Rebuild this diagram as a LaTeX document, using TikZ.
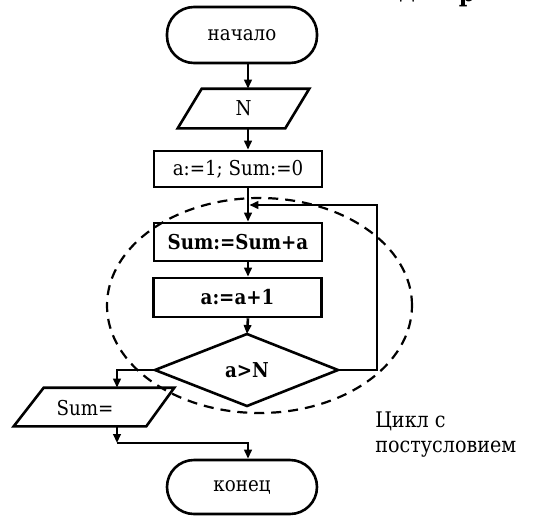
\documentclass[tikz,border=0pt]{standalone}
\usepackage{fontspec}
\setmainfont{DejaVu Serif}[FakeStretch=0.89]
\usetikzlibrary{arrows.meta,calc}
\begin{document}
\begin{tikzpicture}[x=1pt,y=-1pt,
  line width=2.6pt, line join=miter,
  arr/.style={-{Triangle[length=9pt,width=7.5pt]}},
  txt/.style={font=\fontsize{20.5}{24}\selectfont, inner sep=0pt},
  btxt/.style={font=\fontsize{20.5}{24}\selectfont\bfseries, inner sep=0pt},
  terminal/.style={draw, rounded corners=27pt, txt},
  procbox/.style={draw, txt},
  ghost/.style={inner sep=0pt},
  headfrag/.style={font=\fontsize{26}{30}\selectfont\bfseries, inner sep=0pt, anchor=south},
  looplabel/.style={font=\fontsize{21.5}{25}\selectfont, inner sep=0pt, anchor=base west},
  ]
\useasboundingbox (0,0) rectangle (541,515);

% heading fragments above the page edge
\node[headfrag] (hd) at (407,3.5) {д};
\node[headfrag] (hr) at (467,8) {р};

% main column of connectors
\coordinate (spine) at (248,0);

% blocks
\node[terminal, minimum width=150pt, minimum height=56pt] (start) at (242,35) {начало};
\node[ghost, minimum width=129pt, minimum height=37pt, txt] (inp) at (243.5,108.5) {N};
\draw ($(inp.north west)+(24,0)$) -- (inp.north east) -- ($(inp.south east)+(-24,0)$) -- (inp.south west) -- cycle;
\node[procbox, minimum width=168pt, minimum height=36pt] (init) at (238,169) {a:=1; Sum:=0};
\node[procbox, minimum width=168pt, minimum height=38pt, btxt] (sum) at (238,242) {Sum:=Sum+a};
\node[procbox, minimum width=168pt, minimum height=39pt, btxt] (inc) at (237.5,297.5) {a:=a+1};

% decision
\node[btxt] (dec) at (247,370) {a>N};
\coordinate (dTop) at (247,334);
\coordinate (dRight) at (338,370);
\coordinate (dBot) at (247,406);
\coordinate (dLeft) at (155,370);
\draw (dTop) -- (dRight) -- (dBot) -- (dLeft) -- cycle;

% output
\node[ghost, minimum width=158pt, minimum height=36pt] (out) at (94,407) {};
\node[txt] (outt) at (85,408) {Sum=};
\draw ($(out.north west)+(30,0)$) -- (out.north east) -- ($(out.south east)+(-28,0)$) -- (out.south west) -- cycle;

\node[terminal, minimum width=150pt, minimum height=54pt] (end) at (242,487) {конец};

% connectors
\draw[arr] (start.south -| spine) -- (inp.north -| spine);
\draw[arr] (inp.south -| spine) -- (init.north -| spine);
\draw[arr] (init.south -| spine) -- (sum.north -| spine);
\draw[arr] (sum.south -| spine) -- (inc.north -| spine);
\draw[arr] (inc.south -| spine) -- (dTop);

\coordinate (loopR) at (377,370);
\coordinate (loopT) at (377,205);
\draw[arr] (dRight) -- (loopR) -- (loopT) -- ($(loopT -| spine)+(1.3,0)$);

\coordinate (brL) at (117,370);
\draw[arr] (dLeft) -- (brL) -- (brL |- out.north);
\coordinate (j1) at (117,443);
\draw[arr] (brL |- out.south) -- (j1);
\draw[arr] (j1) -| (end.north -| spine);

% loop region
\draw[dashed, dash pattern=on 10pt off 7pt, line width=2.2pt] (259.5,305.5) ellipse [x radius=152.5pt, y radius=107.5pt];

% caption
\node[looplabel] (lbl1) at (374,427) {Цикл с};
\node[looplabel] (lbl2) at (374,452) {постусловием};
\end{tikzpicture}
\end{document}
